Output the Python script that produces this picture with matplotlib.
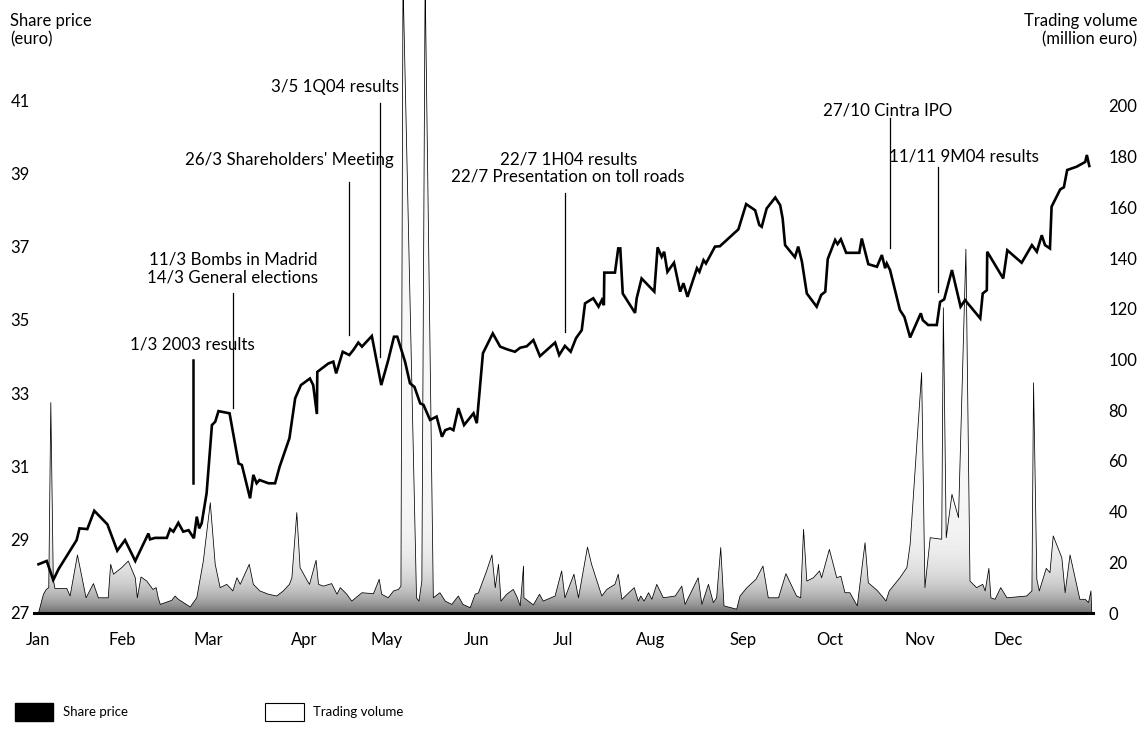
import numpy as np
import matplotlib.pyplot as plt
from matplotlib.patches import Patch

plt.rcParams['font.family'] = ['Lato', 'DejaVu Sans']

# share price (euro), trading-day index
price_day = [0.1, 2.1, 3.7, 5.0, 9.4, 10.1, 12.0, 13.7, 16.9, 19.3, 21.2, 23.7,
             26.9, 27.3, 28.5, 31.4, 32.2, 33.0, 34.2, 35.4, 36.7, 38.0, 38.7,
             39.3, 39.9, 41.1, 42.4, 43.2, 44.0, 46.7, 48.9, 49.7, 51.7, 52.5,
             53.3, 54.0, 56.2, 57.8, 58.9, 61.3, 62.7, 64.1, 66.3, 67.1, 68.0,
             68.1, 70.8, 72.0, 72.7, 74.3, 75.9, 76.9, 78.1, 79.0, 81.4, 83.7,
             85.4, 86.8, 87.6, 89.5, 90.7, 91.8, 93.2, 94.0, 95.6, 97.2, 98.5,
             99.3, 100.5, 101.3, 102.5, 103.9, 106.2, 107.0, 108.5, 110.9, 112.7,
             114.3, 116.3, 117.6, 119.2, 120.8, 122.4, 126.1, 127.1, 128.5, 129.9,
             131.2, 132.6, 133.4, 135.4, 136.7, 137.5, 138.0, 138.1, 140.7, 141.5,
             142.0, 142.6, 145.6, 146.0, 147.2, 150.3, 151.1, 152.1, 152.7, 153.5,
             155.1, 156.6, 157.4, 158.4, 160.7, 161.3, 162.3, 162.9, 165.1, 166.3,
             170.8, 172.7, 174.9, 175.9, 176.5, 177.7, 179.8, 181.0, 181.6, 182.2,
             184.6, 185.4, 186.3, 187.5, 189.9, 191.0, 192.0, 192.6, 194.4, 195.0,
             195.8, 197.1, 200.3, 200.9, 202.5, 204.6, 205.8, 206.6, 207.0, 207.8,
             210.2, 211.3, 212.7, 215.3, 215.8, 217.1, 219.2, 220.0, 221.0, 222.9,
             225.0, 226.1, 229.8, 230.4, 231.4, 231.5, 235.4, 236.4, 239.9, 242.4,
             243.6, 244.8, 245.6, 246.8, 247.2, 249.3, 250.2, 251.0, 253.3, 255.4,
             255.8, 256.4]
price_eur = [28.33, 28.42, 27.90, 28.20, 28.99, 29.31, 29.29, 29.79, 29.42, 28.70,
             28.99, 28.42, 29.17, 29.01, 29.05, 29.05, 29.29, 29.22, 29.46, 29.22,
             29.26, 29.04, 29.63, 29.31, 29.45, 30.27, 32.13, 32.22, 32.51, 32.45,
             31.08, 31.04, 30.13, 30.77, 30.54, 30.63, 30.54, 30.54, 30.99, 31.77,
             32.86, 33.22, 33.40, 33.22, 32.43, 33.58, 33.81, 33.86, 33.54, 34.13,
             34.04, 34.18, 34.38, 34.27, 34.56, 33.22, 33.90, 34.54, 34.54, 33.86,
             33.27, 33.17, 32.72, 32.68, 32.27, 32.36, 31.81, 31.99, 32.04, 31.99,
             32.59, 32.13, 32.45, 32.18, 34.09, 34.63, 34.27, 34.20, 34.13, 34.24,
             34.28, 34.45, 34.01, 34.38, 34.04, 34.29, 34.13, 34.50, 34.72, 35.45,
             35.59, 35.36, 35.54, 35.40, 36.29, 36.29, 36.95, 36.95, 35.72, 35.19,
             35.59, 36.13, 35.77, 36.98, 36.72, 36.86, 36.31, 36.56, 35.77, 36.00,
             35.63, 36.41, 36.31, 36.63, 36.54, 37.00, 37.01, 37.47, 38.16, 37.99,
             37.59, 37.54, 38.04, 38.34, 38.13, 37.77, 37.04, 36.71, 37.00, 36.59,
             35.72, 35.36, 35.68, 35.77, 36.66, 37.18, 37.07, 37.20, 36.83, 36.83,
             37.22, 36.52, 36.45, 36.77, 36.41, 36.54, 36.36, 35.27, 35.08, 34.52,
             35.18, 34.99, 34.86, 34.86, 35.49, 35.56, 36.36, 35.36, 35.54, 35.04,
             35.72, 35.81, 36.86, 36.13, 36.90, 36.56, 37.04, 36.86, 37.31, 37.04,
             36.95, 38.09, 38.56, 38.62, 39.09, 39.18, 39.31, 39.50, 39.20]

# trading volume (million euro)
vol_day = [0.1, 1.3, 2.0, 2.6, 3.1, 3.7, 4.1, 7.0, 7.8, 9.6, 11.7, 13.5, 14.7, 17.1,
           17.7, 18.4, 20.4, 22.0, 23.7, 24.2, 25.1, 26.5, 28.0, 28.8, 29.3, 29.8,
           32.6, 33.4, 34.2, 37.1, 38.7, 40.3, 42.0, 43.2, 44.4, 46.0, 46.8, 47.5,
           48.5, 49.3, 51.5, 52.5, 54.1, 56.2, 58.2, 59.8, 61.3, 61.9, 63.1, 63.9,
           65.7, 66.2, 67.8, 68.4, 69.6, 71.6, 72.9, 73.7, 75.3, 76.5, 79.0, 81.8,
           83.2, 83.8, 85.4, 86.7, 87.9, 88.5, 89.0, 92.3, 92.9, 93.6, 94.4, 96.4,
           98.0, 99.3, 100.9, 102.5, 103.6, 105.4, 106.6, 107.4, 109.4, 110.7, 111.5,
           112.3, 112.9, 114.3, 115.9, 116.9, 117.6, 118.4, 118.5, 120.8, 122.3,
           123.2, 126.1, 127.7, 128.5, 130.7, 131.8, 134.0, 135.0, 137.5, 138.7,
           140.7, 141.5, 142.4, 145.4, 146.4, 147.0, 147.8, 148.9, 149.7, 150.9,
           152.5, 155.4, 157.0, 157.8, 161.0, 161.9, 163.5, 164.7, 165.5, 166.5,
           167.3, 170.4, 171.2, 172.9, 175.1, 176.8, 178.1, 180.6, 182.4, 185.0,
           186.0, 186.7, 187.5, 189.1, 190.6, 191.1, 193.0, 194.8, 195.8, 196.8,
           198.0, 199.8, 201.7, 202.5, 204.6, 206.2, 206.8, 207.6, 210.2, 211.9,
           212.7, 215.5, 216.3, 217.6, 220.4, 220.8, 221.5, 222.9, 224.5, 226.3,
           227.3, 228.9, 230.4, 231.0, 231.9, 232.4, 233.4, 234.8, 236.3, 241.1,
           242.4, 242.8, 243.6, 244.2, 245.9, 246.8, 247.6, 249.7, 250.5, 251.7,
           254.1, 255.4, 256.2, 256.8, 257.0]
vol_meur = [0, 7.4, 9.3, 10, 83, 13.3, 9.7, 9.7, 6.7, 22.9, 6.0, 11.6, 6.0, 6.0,
            19.2, 15.3, 17.9, 20.5, 13.9, 6.0, 14.2, 12.6, 9.3, 10.0, 6.0, 3.4,
            5.0, 6.7, 5.4, 2.4, 6.0, 20.5, 43.5, 19.2, 10.0, 11.3, 10, 8.7,
            13.9, 11.3, 19.2, 11.3, 8.7, 7.4, 6.7, 8.7, 11.3, 13.9, 39.6, 17.9,
            12.6, 11.3, 20.8, 11.3, 10.6, 11.6, 7.4, 10.0, 7.4, 4.7, 8.0, 7.6,
            13.3, 7.4, 6.0, 8.7, 9.3, 10.6, 250, 6.0, 4.7, 12.6, 250, 6.0,
            8.0, 4.7, 3.4, 6.7, 3.4, 2.1, 7.4, 7.9, 16.6, 22.9, 10,
            19.2, 4.7, 7.4, 9.3, 6, 2.8, 18.5, 6, 3.2, 7.4,
            4.7, 6.7, 16.6, 6, 15.3, 6, 26.0, 19.2, 6.7, 9.3,
            11.3, 15.3, 5.4, 10, 4.7, 6.7, 4.7, 8, 5.4, 11.3,
            6, 6.7, 10.6, 3.4, 13.9, 3.4, 11.3, 4.1, 6, 25.8,
            2.8, 1.5, 6.7, 10, 13.3, 18.5, 6, 6, 15.5, 6.7,
            6, 33.0, 12.6, 13.9, 16.6, 13.9, 25.1, 13.9, 14.5, 8,
            8, 2.8, 27.7, 11.9, 9.0, 6, 4.7, 8.7, 13.9, 17.9,
            27.1, 94.8, 10, 29.7, 29.1, 120.4, 29.7, 46.8, 37.6, 143.5,
            12.6, 10, 11.3, 8.7, 17.6, 6, 5.4, 10, 6, 6.7,
            8.7, 90.8, 13.3, 8.7, 17.6, 15.9, 30.4, 21.8, 8, 22.9,
            5.4, 5.4, 4.1, 8.7, 0]

months = ['Jan', 'Feb', 'Mar', 'Apr', 'May', 'Jun', 'Jul', 'Aug', 'Sep', 'Oct', 'Nov', 'Dec']
month_day = [0, 20.5, 41.5, 65, 85, 107, 128, 149.5, 172, 193, 215, 236.5]

price_ticks = [27, 29, 31, 33, 35, 37, 39, 41]
vol_ticks = [0, 20, 40, 60, 80, 100, 120, 140, 160, 180, 200]

# events: label, day, line bottom/top (price), text x, text y (price), line width
events = [
    ("1/3 2003 results", 37.9, 30.56, 33.90, 37.6, 34.10, 1.8),
    ("11/3 Bombs in Madrid\n14/3 General elections", 47.6, 32.59, 35.73, 47.5, 35.95, 0.9),
    ("26/3 Shareholders' Meeting", 75.9, 34.59, 38.76, 61.3, 39.15, 0.9),
    ("3/5 1Q04 results", 83.5, 34.00, 40.92, 72.3, 41.15, 0.9),
    ("22/7 1H04 results\n22/7 Presentation on toll roads", 128.5, 34.68, 38.46, 129.3, 38.70, 0.9),
    ("27/10 Cintra IPO", 207.8, 36.96, 40.51, 207.2, 40.50, 0.9),
    ("11/11 9M04 results", 219.4, 35.76, 39.17, 225.9, 39.25, 0.9),
]

fig = plt.figure(figsize=(11.47, 7.29), dpi=100)
ax = fig.add_axes([34 / 1147, 116 / 729, 1059 / 1147, 613 / 729])
ax2 = ax.twinx()
ax.set_zorder(ax2.get_zorder() + 1)
ax.patch.set_visible(False)

# volume area with a grey shading that fades upward
poly = ax2.fill_between(vol_day, vol_meur, 0, facecolor='none', edgecolor='none')
lev = np.linspace(0, 260, 400)
shade = 0.45 + 0.52 * (1 - np.exp(-lev / 10))
img = ax2.imshow(shade[:, None], extent=[0, 257, 0, 260], origin='lower',
                 aspect='auto', cmap='gray', vmin=0, vmax=1, interpolation='bilinear')
img.set_clip_path(poly.get_paths()[0], transform=ax2.transData)
ax2.plot(vol_day, vol_meur, color='black', lw=0.55)
ax2.set_ylim(0, 241.8)
ax2.set_yticks(vol_ticks)
ax2.tick_params(axis='y', length=0, pad=11, labelsize=12)

ax.plot(price_day, price_eur, color='black', lw=1.9, solid_joinstyle='miter')
ax.axhline(27, color='black', lw=2.2, clip_on=False)

for label, d, y0, y1, tx, ty, lw in events:
    ax.plot([d, d], [y0, y1], color='black', lw=lw)
    ax.text(tx, ty, label, ha='center', va='bottom', fontsize=12.2, linespacing=1.1)

ax.set_xlim(-1, 257.3)
ax.set_ylim(27, 43.73)
ax.set_yticks(price_ticks)
ax.set_xticks(month_day, months)
ax.tick_params(axis='y', length=0, pad=3, labelsize=12)
ax.tick_params(axis='x', length=0, pad=14, labelsize=12)

for a in (ax, ax2):
    for s in a.spines.values():
        s.set_visible(False)

fig.text(10 / 1147, 1 - 13 / 729, "Share price\n(euro)", ha='left', va='top', fontsize=12, linespacing=1.15)
fig.text(1137 / 1147, 1 - 13 / 729, "Trading volume\n(million euro)", ha='right', va='top',
         fontsize=12, linespacing=1.15, multialignment='right')

handles = [Patch(facecolor='black', edgecolor='black'),
           Patch(facecolor='white', edgecolor='black', lw=0.8)]
fig.legend(handles, ['Share price', 'Trading volume'], loc='lower left',
           bbox_to_anchor=(3 / 1147, -0.006), ncol=2, frameon=False, fontsize=9.5,
           handlelength=2.9, handleheight=1.8, handletextpad=0.75, columnspacing=10.4)

fig.savefig('out.png', dpi=100)
